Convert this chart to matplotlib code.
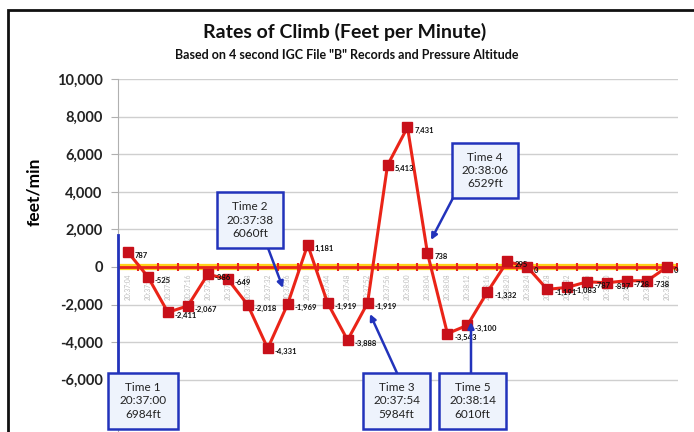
import matplotlib
matplotlib.use("Agg")
import matplotlib.pyplot as plt
from matplotlib.patches import Rectangle
import numpy as np

plt.rcParams['font.family'] = ['Lato', 'DejaVu Sans']

# ======================
# DATA
# ======================
times = ["20:37:04", "20:37:08", "20:37:12", "20:37:16", "20:37:20", "20:37:24",
         "20:37:28", "20:37:32", "20:37:36", "20:37:40", "20:37:44", "20:37:48",
         "20:37:52", "20:37:56", "20:38:00", "20:38:04", "20:38:08", "20:38:12",
         "20:38:16", "20:38:20", "20:38:24", "20:38:28", "20:38:32", "20:38:36",
         "20:38:40", "20:38:44", "20:38:48", "20:38:52"]
rates = [787, -525, -2411, -2067, -386, -649, -2018, -4331, -1969, 1181,
         -1919, -3888, -1919, 5413, 7431, 738, -3543, -3100, -1332, 295,
         0, -1191, -1083, -787, -837, -728, -738, 0]

yticks = [-6000, -4000, -2000, 0, 2000, 4000, 6000, 8000, 10000]

notes = [
    ("Time 1\n20:37:00\n6984ft", (108, 373, 70, 56), None),
    ("Time 2\n20:37:38\n6060ft", (217, 192, 66, 56), ((268, 248), (283, 288))),
    ("Time 3\n20:37:54\n5984ft", (363, 373, 67, 56), ((397, 373), (370, 314))),
    ("Time 4\n20:38:06\n6529ft", (452, 143, 66, 55), ((453, 198), (431, 240))),
    ("Time 5\n20:38:14\n6010ft", (439, 373, 67, 56), ((471, 373), (471, 322))),
]

W, H = 694, 432


def px(x, y):
    return (x / W, 1 - y / H)


# ======================
# FIGURE
# ======================
fig = plt.figure(figsize=(W / 100, H / 100), dpi=100)
ax = fig.add_axes([118 / W, 0, (678 - 118) / W, 1 - 79 / H])

x = np.arange(len(rates))
ax.set_xlim(-0.5, 27.55)
ax.set_ylim(-8777, 10000)

ax.set_yticks(yticks)
ax.set_yticklabels([f"{v:,}" for v in yticks], fontsize=10.5, fontweight='bold', color='#222222')
ax.set_xticks([])
ax.grid(axis='y', color='#cfcfcf', lw=1)
ax.set_axisbelow(True)
for s in ['top', 'right', 'bottom']:
    ax.spines[s].set_visible(False)
ax.spines['left'].set_color('#b0b0b0')
ax.tick_params(axis='y', colors='#b0b0b0', length=5, labelcolor='#222222', pad=6)

ax.set_ylabel("feet/min", fontsize=12.5, fontweight='bold', labelpad=14)
ax.yaxis.set_label_coords(-0.135, 0.68)

# zero line (x axis) with category ticks
ax.axhline(0, color='#ffd21a', lw=4.5, zorder=2)
ax.axhline(0, color='#e8241c', lw=2, zorder=2.1)
ax.vlines(x + 0.5, -230, 230, color='#e8241c', lw=1.5, zorder=2.1)

for i, t in enumerate(times):
    ax.annotate(t, (i, 0), xytext=(0, -5), textcoords='offset points',
                rotation=90, ha='center', va='top', fontsize=4.8, color='#bdbdbd')

# series
ax.plot(x, rates, color='#ea2418', lw=2.2, marker='s', markersize=6.5,
        markerfacecolor='#c8101a', markeredgecolor='#c8101a', zorder=4)
for i, v in enumerate(rates):
    ax.annotate(f"{v:,}", (i, v), xytext=(5, -2.5), textcoords='offset points',
                ha='left', va='center', fontsize=5.5, fontweight='bold', color='#111111', zorder=5)

# titles
fig.text(*px(345, 32), "Rates of Climb (Feet per Minute)", ha='center', va='center',
         fontsize=14, fontweight='bold', color='#111111')
fig.text(*px(347, 55), 'Based on 4 second IGC File "B" Records and Pressure Altitude',
         ha='center', va='center', fontsize=9, fontweight='bold', color='#111111')

# outer frame
fig.patches.append(Rectangle(px(8, 440), (705 - 8) / W, (440 - 10) / H,
                             transform=fig.transFigure, fill=False, ec='#111111', lw=2))

# time annotations
fig.add_artist(plt.Line2D([118 / W, 118 / W], [1 - 235 / H, 1 - 373 / H],
                          transform=fig.transFigure, color='#2233bb', lw=2, zorder=6))
for txt, (bx, by, bw, bh), arrow in notes:
    fig.patches.append(Rectangle(px(bx, by + bh), bw / W, bh / H, transform=fig.transFigure,
                                 fc='#eef3fc', ec='#2233bb', lw=1.8, zorder=7))
    fig.text(*px(bx + bw / 2, by + bh / 2), txt, ha='center', va='center', fontsize=8.5,
             color='#222222', linespacing=1.25, zorder=8)
    if arrow:
        (x0, y0), (x1, y1) = arrow
        fig.add_artist(plt.Annotation("", xy=px(x1, y1), xytext=px(x0, y0),
                                      xycoords='figure fraction', textcoords='figure fraction',
                                      arrowprops=dict(arrowstyle='-|>', color='#2233bb', lw=1.8,
                                                      mutation_scale=9, shrinkA=0, shrinkB=0),
                                      zorder=6))

fig.savefig("out.png", dpi=100)
